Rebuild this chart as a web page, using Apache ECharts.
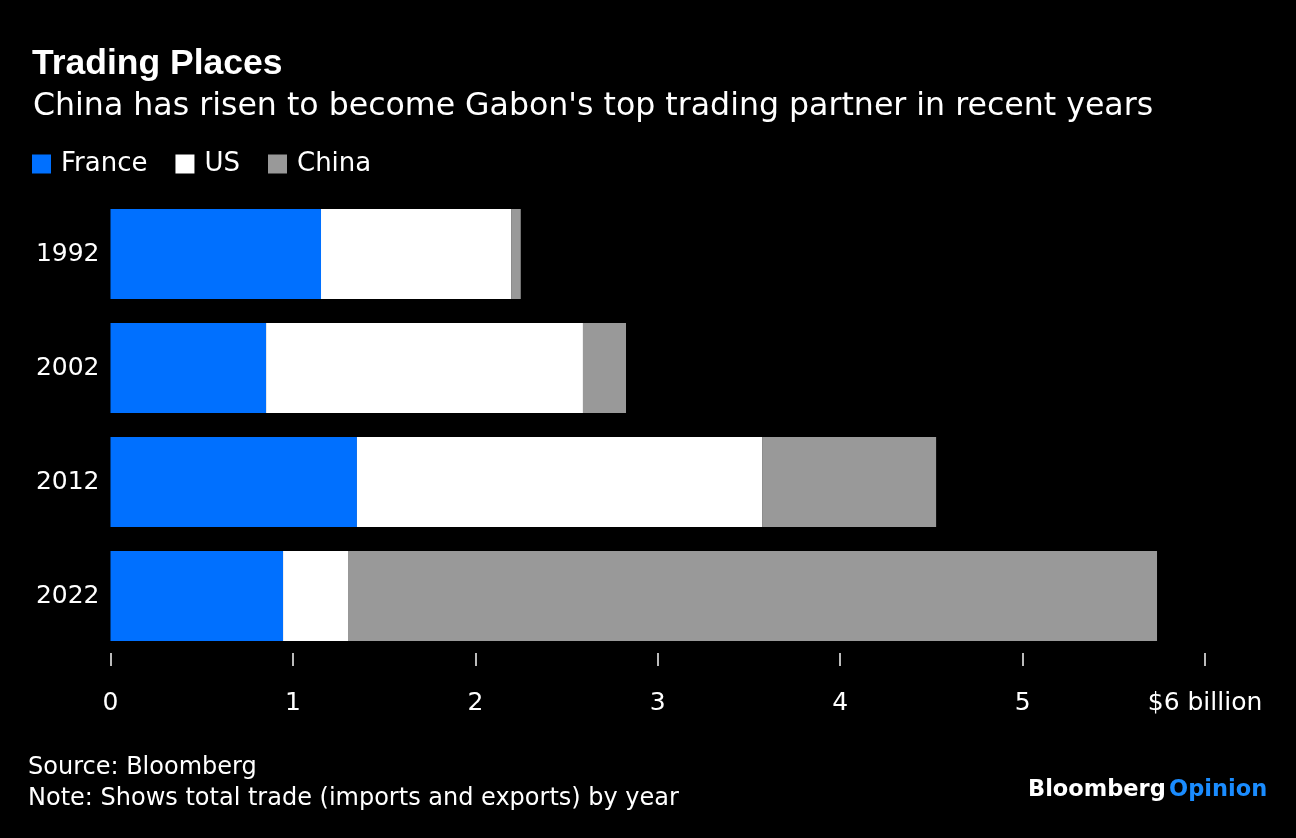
<!DOCTYPE html>
<html>
<head>
<meta charset="utf-8">
<script src="https://cdn.jsdelivr.net/npm/echarts@6/dist/echarts.min.js"></script>
<style>
html,body{margin:0;padding:0;background:#000;}
#c{width:1296px;height:838px;}
</style>
</head>
<body>
<div id="c"></div>
<script>
const years = ['1992', '2002', '2012', '2022'];
const france = [1.154, 0.853, 1.351, 0.946];
const us = [1.042, 1.737, 2.221, 0.356];
const china = [0.053, 0.236, 0.954, 4.435];
const xTicks = [0, 1, 2, 3, 4, 5, 6];
const xTickLabels = ['0', '1', '2', '3', '4', '5', '$6 billion'];

const FONT = '"DejaVu Sans", Inter, "Liberation Sans", Arial, sans-serif';
const chart = echarts.init(document.getElementById('c'), null, {renderer: 'canvas'});
const mk = (name, data, color) => ({
  name, type: 'bar', stack: 'total', data, barWidth: 90,
  itemStyle: {color}, emphasis: {disabled: true}
});
chart.setOption({
  backgroundColor: '#000',
  animation: false,
  textStyle: {fontFamily: FONT},
  title: [{
    text: 'Trading Places', left: 27, top: 41,
    textStyle: {color: '#fff', fontSize: 35.5, fontWeight: 'bold', fontFamily: '"Liberation Sans", Arial, sans-serif'}
  }, {
    text: "China has risen to become Gabon's top trading partner in recent years", left: 28, top: 86,
    textStyle: {color: '#fff', fontSize: 31.6, fontWeight: 'normal', fontFamily: FONT}
  }],
  legend: {
    left: 27, top: 146, itemWidth: 19, itemHeight: 19, itemGap: 28, icon: 'rect',
    textStyle: {color: '#fff', fontSize: 26, fontFamily: FONT, padding: [0, 0, 0, 5]},
    data: ['France', 'US', 'China']
  },
  grid: {left: 110.5, right: 91, top: 197, bottom: 185, containLabel: false},
  xAxis: {
    type: 'value', min: 0, max: 6, interval: 1,
    axisLine: {show: false},
    axisTick: {show: true, length: 13, lineStyle: {color: '#bbb', width: 2}},
    splitLine: {show: false},
    axisLabel: {
      color: '#fff', fontSize: 25, margin: 38, fontFamily: FONT,
      formatter: v => xTickLabels[xTicks.indexOf(v)]
    }
  },
  yAxis: {
    type: 'category', data: years, inverse: true,
    axisLine: {show: false}, axisTick: {show: false},
    axisLabel: {color: '#fff', fontSize: 25, margin: 11, fontFamily: FONT}
  },
  series: [mk('France', france, '#0070ff'), mk('US', us, '#ffffff'), mk('China', china, '#999999')],
  graphic: [
    {type: 'text', left: 28, top: 756, style: {text: 'Source: Bloomberg', fill: '#fff', fontSize: 24, fontFamily: FONT}},
    {type: 'text', left: 28, top: 787, style: {text: 'Note: Shows total trade (imports and exports) by year', fill: '#fff', fontSize: 24, fontFamily: FONT}},
    {type: 'text', left: 1028, top: 779, style: {
      text: '{a|Bloomberg} {b|Opinion}',
      rich: {
        a: {fill: '#fff', fontSize: 22.5, fontWeight: 'bold', fontFamily: FONT},
        b: {fill: '#1a8cff', fontSize: 22.5, fontWeight: 'bold', fontFamily: FONT}
      }
    }}
  ]
});
</script>
</body>
</html>
